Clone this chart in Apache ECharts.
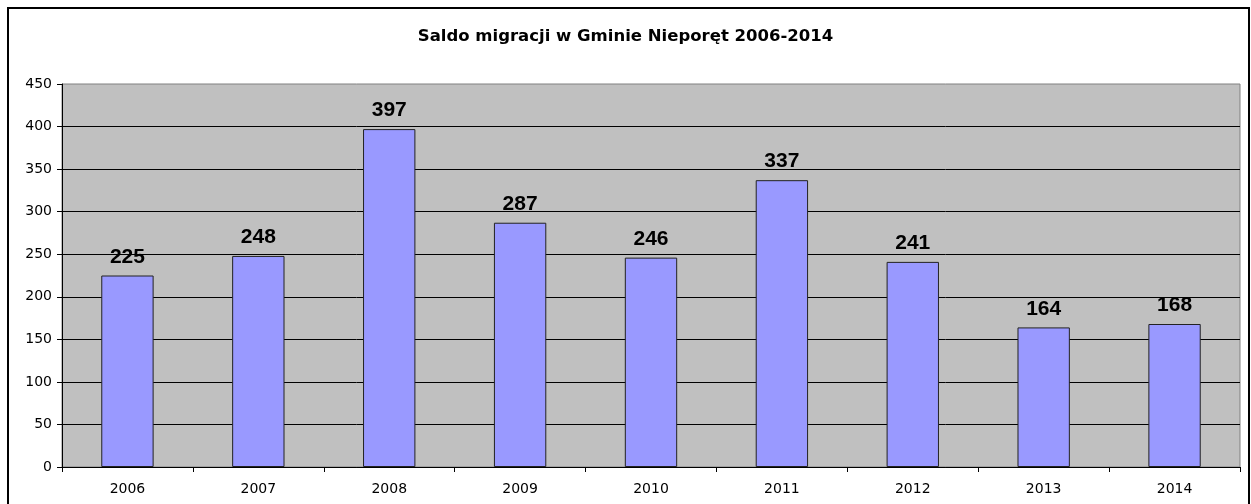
<!DOCTYPE html>
<html>
<head>
<meta charset="utf-8">
<script src="https://cdn.jsdelivr.net/npm/echarts@6/dist/echarts.min.js"></script>
<style>
  html, body { margin: 0; padding: 0; background: #fff; }
  #chart { width: 1251px; height: 504px; }
</style>
</head>
<body>
<div id="chart"></div>
<script>
const years = ['2006', '2007', '2008', '2009', '2010', '2011', '2012', '2013', '2014']
const saldo = [225, 248, 397, 287, 246, 337, 241, 164, 168]
const titleText = 'Saldo migracji w Gminie Nieporęt 2006-2014'

const chart = echarts.init(document.getElementById('chart'))

chart.setOption({
  animation: false,
  textStyle: { fontFamily: 'DejaVu Sans' },
  title: {
    text: titleText,
    left: 'center',
    top: 23,
    textStyle: { fontFamily: 'DejaVu Sans', fontWeight: 'bold', fontSize: 16.5, color: '#000' },
  },
  graphic: [
    {
      type: 'rect',
      shape: { x: 8, y: 8, width: 1241, height: 540 },
      style: { fill: 'none', stroke: '#000', lineWidth: 2 },
      silent: true,
      z: 100,
    },
  ],
  grid: {
    left: 62,
    right: 11,
    top: 84,
    bottom: 37,
    show: true,
    backgroundColor: '#c0c0c0',
    borderColor: '#808080',
    borderWidth: 1,
  },
  xAxis: {
    type: 'category',
    data: years,
    axisLine: { lineStyle: { color: '#000', width: 1 } },
    axisTick: { show: true, length: 5, lineStyle: { color: '#000' } },
    axisLabel: { color: '#000', fontSize: 14, margin: 15 },
  },
  yAxis: {
    type: 'value',
    min: 0,
    max: 450,
    interval: 50,
    axisLine: { show: true, lineStyle: { color: '#000', width: 1 } },
    axisTick: { show: true, length: 5, lineStyle: { color: '#000' } },
    axisLabel: { color: '#000', fontSize: 14, margin: 10 },
    splitLine: { show: true, showMaxLine: false, lineStyle: { color: '#000', width: 1 } },
  },
  series: [
    {
      type: 'bar',
      data: saldo,
      barWidth: '40%',
      itemStyle: { color: '#9999ff', borderColor: '#222', borderWidth: 1 },
      label: {
        show: true,
        position: 'top',
        distance: 8,
        color: '#000',
        fontWeight: 'bold',
        fontSize: 21,
        fontFamily: 'Liberation Sans',
      },
    },
  ],
})
</script>
</body>
</html>
